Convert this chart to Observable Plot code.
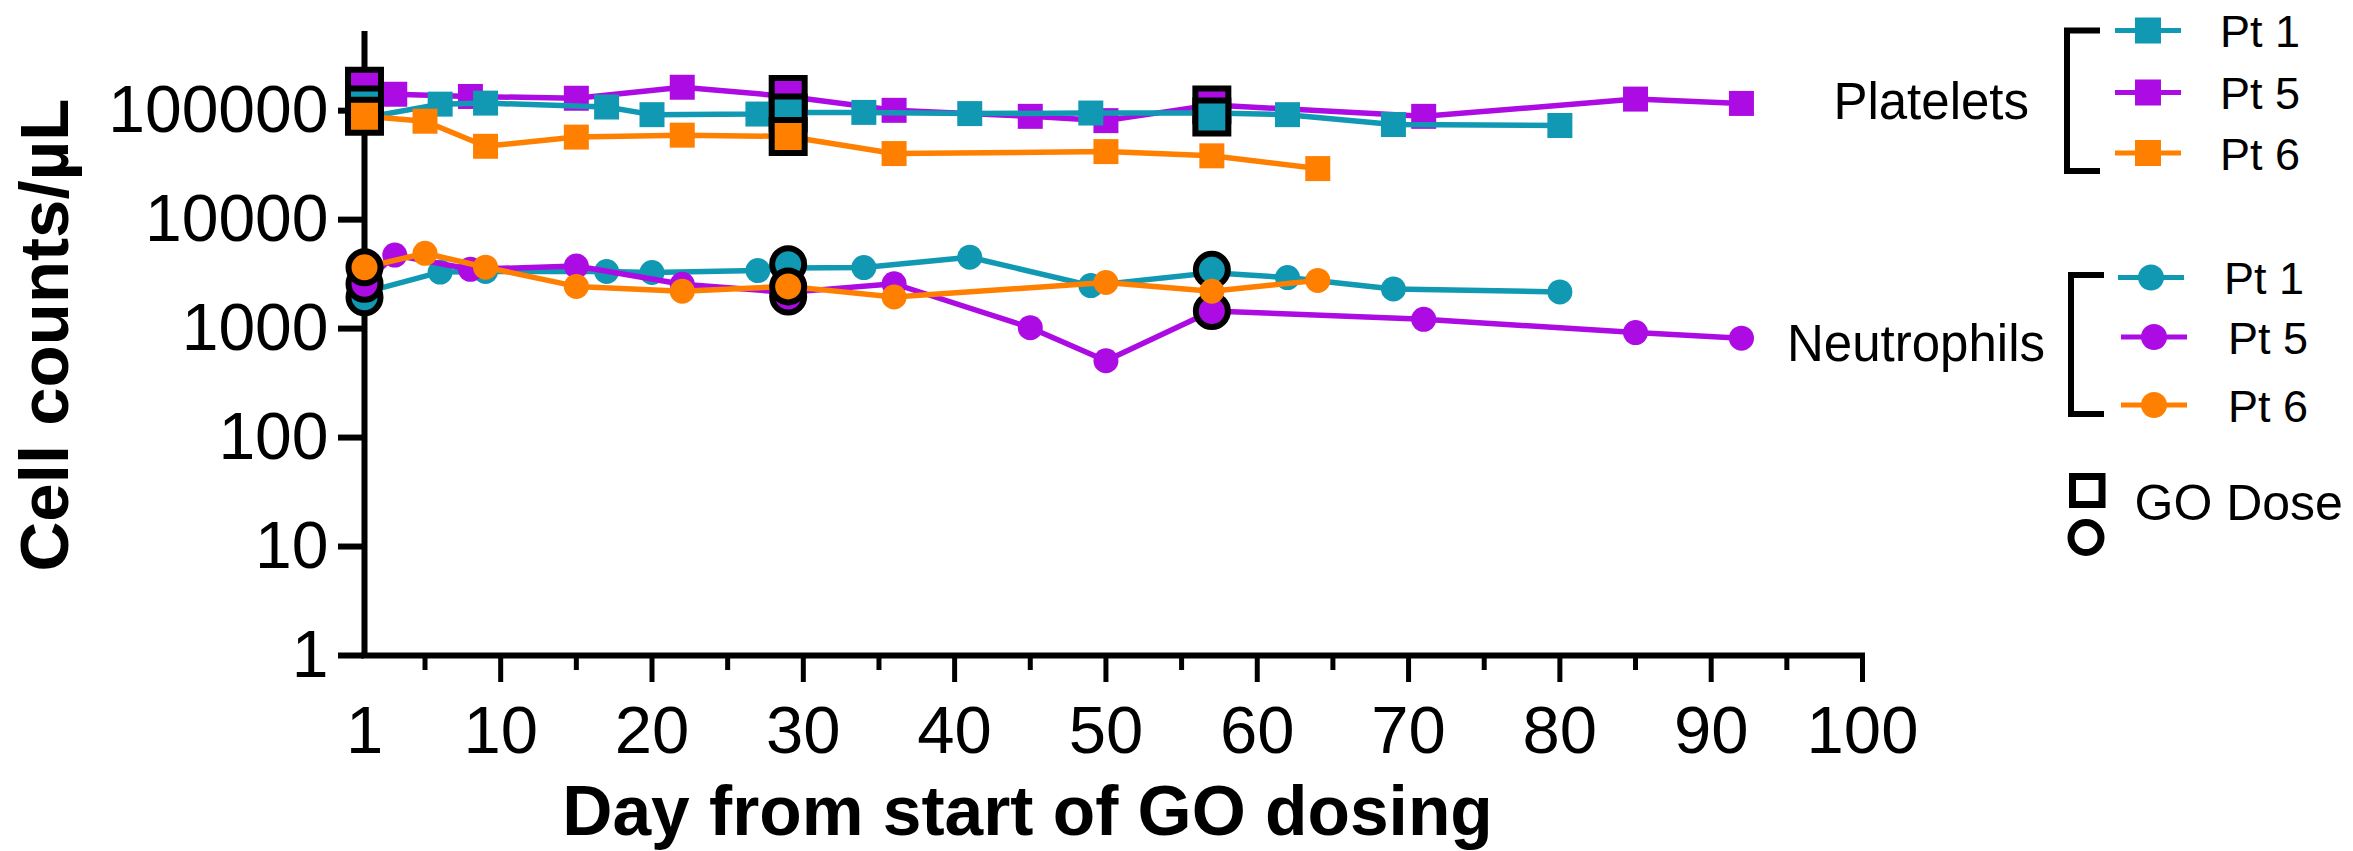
<!DOCTYPE html>
<html>
<head>
<meta charset="utf-8">
<script src="https://cdn.jsdelivr.net/npm/d3@7"></script>
<script src="https://cdn.jsdelivr.net/npm/@observablehq/plot@0.6"></script>
<style>
  html, body { margin: 0; padding: 0; background: #fff; overflow: hidden; }
  #wrap { position: relative; width: 2353px; height: 851px; font-family: "Liberation Sans", Arial, sans-serif; }
  #legend { position: absolute; left: 0; top: 0; pointer-events: none; }
</style>
</head>
<body>
<div id="wrap"></div>
<script>
// ---------- categories ----------
const patients = ["Pt 1", "Pt 5", "Pt 6"];
const patientColors = ["#1199B3", "#AC0CE3", "#FF8000"];

// ---------- Platelets (cells/µL) ----------
const pltPt1Days = [1, 6, 9, 17, 20, 27, 29, 34, 41, 49, 57, 62, 69, 80];
const pltPt1 = [86000, 114800, 117300, 108000, 91900, 93100, 96000, 96400, 94000, 95100, 95000, 91900, 74600, 73100];
const pltPt5Days = [1, 3, 8, 15, 22, 29, 36, 45, 50, 57, 71, 85, 92];
const pltPt5 = [168000, 141500, 135000, 130000, 164000, 135000, 100700, 88700, 81000, 113000, 88700, 127700, 116500];
const pltPt6Days = [1, 5, 9, 15, 22, 29, 36, 50, 57, 64];
const pltPt6 = [88700, 80000, 47100, 57200, 59600, 58000, 40400, 42100, 38500, 29400];

// ---------- Neutrophils (cells/µL) ----------
const neuPt1Days = [1, 6, 9, 17, 20, 27, 29, 34, 41, 49, 57, 62, 69, 80];
const neuPt1 = [2150, 3300, 3350, 3340, 3270, 3410, 3600, 3630, 4520, 2480, 3250, 2940, 2310, 2170];
const neuPt5Days = [1, 3, 8, 15, 22, 29, 36, 45, 50, 57, 71, 85, 92];
const neuPt5 = [2580, 4730, 3500, 3750, 2550, 2150, 2580, 1020, 507, 1450, 1217, 920, 817];
const neuPt6Days = [1, 5, 9, 15, 22, 29, 36, 50, 57, 64];
const neuPt6 = [3650, 4910, 3660, 2440, 2200, 2440, 1950, 2650, 2200, 2770];

// ---------- GO dose markers ----------
const pltDoseDays = [1, 1, 1, 29, 29, 29, 57, 57];
const pltDosePatients = ["Pt 5", "Pt 1", "Pt 6", "Pt 5", "Pt 1", "Pt 6", "Pt 5", "Pt 1"];
const pltDoseValues = [168000, 113000, 88700, 141000, 95000, 58000, 113000, 87300];
const neuDoseDays = [1, 1, 1, 29, 29, 29, 57, 57];
const neuDosePatients = ["Pt 1", "Pt 5", "Pt 6", "Pt 1", "Pt 5", "Pt 6", "Pt 1", "Pt 5"];
const neuDoseValues = [1940, 2580, 3650, 3900, 1970, 2440, 3460, 1450];

// ---------- ticks ----------
const yTicks = [1, 10, 100, 1000, 10000, 100000];
const xLabelTicks = [1, 10, 20, 30, 40, 50, 60, 70, 80, 90, 100];
const xMajorTicks = [10, 20, 30, 40, 50, 60, 70, 80, 90, 100];
const xMinorTicks = [5, 15, 25, 35, 45, 55, 65, 75, 85, 95];

// ---------- tables ----------
const rows = (patient, days, vals) => days.map((d, i) => ({patient, day: d, value: vals[i]}));
const platelets = [
  ...rows("Pt 1", pltPt1Days, pltPt1),
  ...rows("Pt 5", pltPt5Days, pltPt5),
  ...rows("Pt 6", pltPt6Days, pltPt6)
];
const neutrophils = [
  ...rows("Pt 1", neuPt1Days, neuPt1),
  ...rows("Pt 5", neuPt5Days, neuPt5),
  ...rows("Pt 6", neuPt6Days, neuPt6)
];
const pltDoses = pltDoseDays.map((d, i) => ({patient: pltDosePatients[i], day: d, value: pltDoseValues[i]}));
const neuDoses = neuDoseDays.map((d, i) => ({patient: neuDosePatients[i], day: d, value: neuDoseValues[i]}));

const groups = [
  {data: platelets, doses: pltDoses, order: ["Pt 5", "Pt 1", "Pt 6"], symbol: "square", r: 14.1, rDose: 18.6},
  {data: neutrophils, doses: neuDoses, order: ["Pt 1", "Pt 5", "Pt 6"], symbol: "circle", r: 12.5, rDose: 16}
];

const dataMarks = [];
for (const g of groups) {
  for (const p of g.order) {
    const d = g.data.filter(r => r.patient === p);
    const dd = g.doses.filter(r => r.patient === p);
    dataMarks.push(Plot.line(d, {x: "day", y: "value", stroke: "patient", strokeWidth: 5.5, strokeLinejoin: "miter"}));
    dataMarks.push(Plot.dot(d, {x: "day", y: "value", fill: "patient", symbol: () => g.symbol, r: g.r}));
    dataMarks.push(Plot.dot(dd, {x: "day", y: "value", fill: "patient", symbol: () => g.symbol, r: g.rDose, stroke: "black", strokeWidth: 6}));
  }
}

const chart = Plot.plot({
  width: 2353,
  height: 851,
  marginLeft: 364,
  marginRight: 491,
  marginTop: 34,
  marginBottom: 196,
  x: {domain: [1, 100]},
  y: {type: "log", domain: [1, 500000]},
  color: {domain: patients, range: patientColors},
  symbol: {domain: ["square", "circle"], range: ["square", "circle"]},
  style: {fontFamily: "\"Liberation Sans\", Arial, sans-serif", fontSize: "66px", color: "black", background: "white", overflow: "visible"},
  marks: [
    Plot.axisY({ticks: yTicks, tickFormat: d3.format("d"), tickSize: 26, tickPadding: 10, strokeWidth: 6, fontSize: 66, label: null}),
    Plot.axisX({ticks: xMinorTicks, tickSize: 15, strokeWidth: 5, fill: "none", label: null}),
    Plot.axisX({ticks: xMajorTicks, tickSize: 27, strokeWidth: 5, fill: "none", label: null}),
    Plot.axisX({ticks: xLabelTicks, tickSize: 0, tickPadding: 50, fontSize: 67, label: null}),
    Plot.ruleY([1], {stroke: "black", strokeWidth: 6, strokeLinecap: "square"}),
    Plot.ruleX([1], {stroke: "black", strokeWidth: 6, strokeLinecap: "square"}),
    ...dataMarks,
    Plot.text(["Cell counts/µL"], {text: d => d, frameAnchor: "left", rotate: -90, lineAnchor: "top", textAnchor: "middle", dx: -346, dy: -10, fontSize: 69, fontWeight: "bold", fill: "black"}),
    Plot.text(["Day from start of GO dosing"], {text: d => d, frameAnchor: "bottom", lineAnchor: "top", textAnchor: "middle", dx: -86, dy: 130, fontSize: 69.5, fontWeight: "bold", fill: "black"})
  ]
});
document.getElementById("wrap").appendChild(chart);

// ---------- legend ----------
const colorOf = p => patientColors[patients.indexOf(p)];
const lg = d3.select("#wrap").append("svg").attr("id", "legend")
  .attr("width", 2353).attr("height", 851)
  .style("font-family", "\"Liberation Sans\", Arial, sans-serif");

const legendGroups = [
  {title: "Platelets", symbol: "square", titleX: 2029, titleY: 119,
   bracket: "M2100,30.5 H2067 V171 H2100",
   entries: [{p: "Pt 1", y: 30.5, x1: 2115, x2: 2181, tx: 2220},
             {p: "Pt 5", y: 92.5, x1: 2115, x2: 2181, tx: 2220},
             {p: "Pt 6", y: 153, x1: 2115, x2: 2181, tx: 2220}]},
  {title: "Neutrophils", symbol: "circle", titleX: 2045, titleY: 361,
   bracket: "M2104,275 H2071 V414 H2104",
   entries: [{p: "Pt 1", y: 277.5, x1: 2118, x2: 2184, tx: 2224},
             {p: "Pt 5", y: 337, x1: 2121, x2: 2187, tx: 2228},
             {p: "Pt 6", y: 405, x1: 2121, x2: 2187, tx: 2228}]}
];
for (const g of legendGroups) {
  lg.append("text").attr("x", g.titleX).attr("y", g.titleY).attr("text-anchor", "end")
    .attr("font-size", 51).attr("fill", "black").text(g.title);
  lg.append("path").attr("d", g.bracket).attr("fill", "none").attr("stroke", "black").attr("stroke-width", 6);
  for (const e of g.entries) {
    const c = colorOf(e.p);
    const cx = (e.x1 + e.x2) / 2;
    lg.append("line").attr("x1", e.x1).attr("x2", e.x2).attr("y1", e.y).attr("y2", e.y)
      .attr("stroke", c).attr("stroke-width", 5);
    if (g.symbol === "square") {
      lg.append("rect").attr("x", cx - 13).attr("y", e.y - 13).attr("width", 26).attr("height", 26).attr("fill", c);
    } else {
      lg.append("circle").attr("cx", cx).attr("cy", e.y).attr("r", 13).attr("fill", c);
    }
    lg.append("text").attr("x", e.tx).attr("y", e.y + 16.5).attr("font-size", 45).attr("fill", "black").text(e.p);
  }
}
lg.append("rect").attr("x", 2072.5).attr("y", 476.5).attr("width", 29.5).attr("height", 28)
  .attr("fill", "none").attr("stroke", "black").attr("stroke-width", 7);
lg.append("circle").attr("cx", 2086).attr("cy", 537.5).attr("r", 15)
  .attr("fill", "none").attr("stroke", "black").attr("stroke-width", 7);
lg.append("text").attr("x", 2134.5).attr("y", 520).attr("font-size", 50).attr("fill", "black").text("GO Dose");
</script>
</body>
</html>
